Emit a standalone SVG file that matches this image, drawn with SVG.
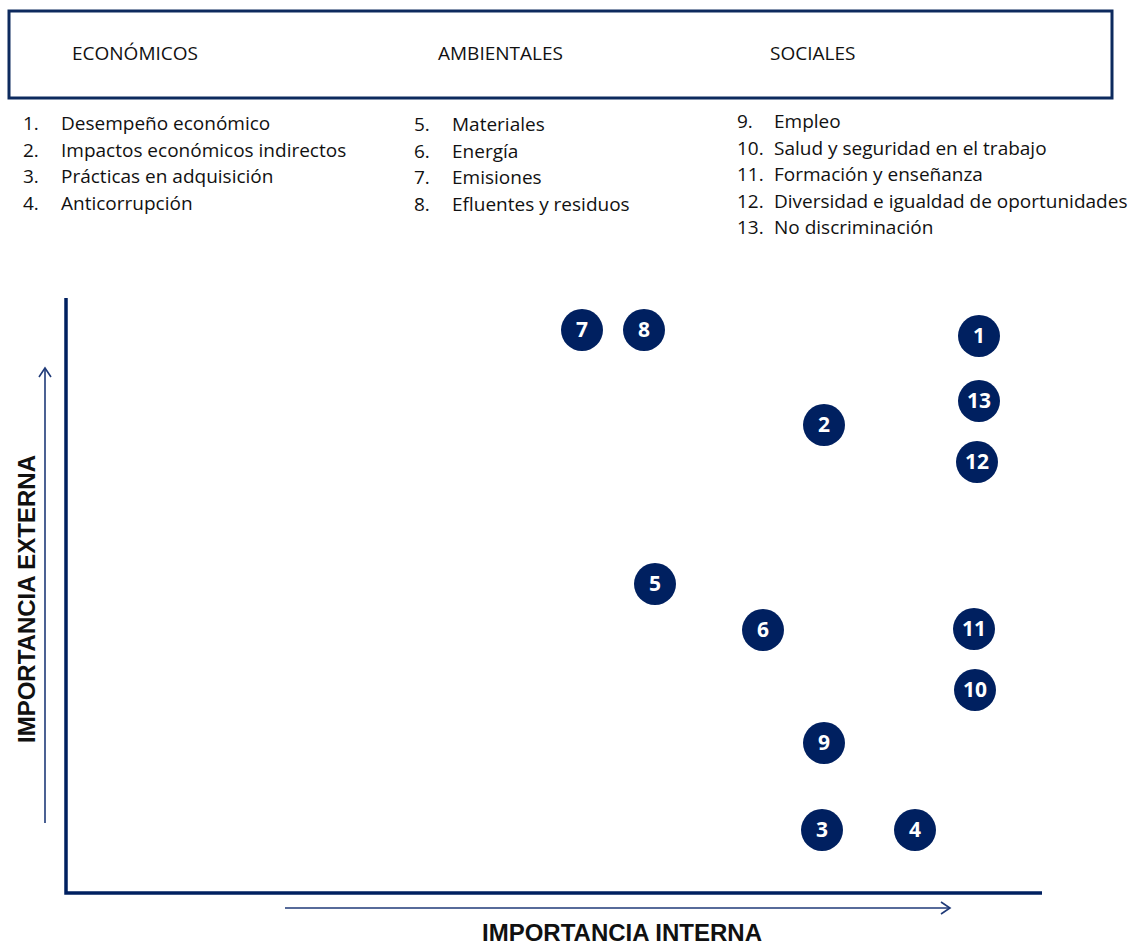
<svg xmlns="http://www.w3.org/2000/svg" width="1140" height="945" viewBox="0 0 1140 945">
<style>
.t{font-family:"Open Sans","Liberation Sans",sans-serif;font-size:19px;fill:#111}
.h{font-family:"Open Sans","Liberation Sans",sans-serif;font-size:19px;fill:#111}
.lab{font-family:"Liberation Sans",Arial,sans-serif;font-weight:bold;font-size:24px;fill:#111}
.c circle{fill:#002060}
.c text{font-family:"Open Sans","Liberation Sans",sans-serif;font-weight:bold;font-size:21px;fill:#fff;text-anchor:middle}
.ax{stroke:#002060;stroke-width:3.5;fill:none}
.ar{stroke:#1f3a78;stroke-width:1.6;fill:none}
</style>
<defs>
<marker id="open" markerWidth="12" markerHeight="14" refX="10" refY="7" orient="auto" markerUnits="userSpaceOnUse">
<path d="M1,1 L10,7 L1,13" fill="none" stroke="#1f3a78" stroke-width="1.6"/>
</marker>
</defs>
<rect width="1140" height="945" fill="#fff"/>
<g id="header">
<rect x="9" y="11" width="1103" height="87" fill="#fff" stroke="#0d2a5e" stroke-width="3"/>
<text class="h" x="72" y="60">ECONÓMICOS</text>
<text class="h" x="438" y="60">AMBIENTALES</text>
<text class="h" x="770" y="60">SOCIALES</text>
</g>
<g id="list-economicos" class="t">
<text x="23" y="130">1.</text><text x="61" y="130">Desempeño económico</text>
<text x="23" y="157">2.</text><text x="61" y="157">Impactos económicos indirectos</text>
<text x="23" y="183">3.</text><text x="61" y="183">Prácticas en adquisición</text>
<text x="23" y="210">4.</text><text x="61" y="210">Anticorrupción</text>
</g>
<g id="list-ambientales" class="t">
<text x="414" y="131">5.</text><text x="452" y="131">Materiales</text>
<text x="414" y="158">6.</text><text x="452" y="158">Energía</text>
<text x="414" y="184">7.</text><text x="452" y="184">Emisiones</text>
<text x="414" y="211">8.</text><text x="452" y="211">Efluentes y residuos</text>
</g>
<g id="list-sociales" class="t">
<text x="737" y="128">9.</text><text x="774" y="128">Empleo</text>
<text x="737" y="155">10.</text><text x="774" y="155">Salud y seguridad en el trabajo</text>
<text x="737" y="181">11.</text><text x="774" y="181">Formación y enseñanza</text>
<text x="737" y="208">12.</text><text x="774" y="208">Diversidad e igualdad de oportunidades</text>
<text x="737" y="234">13.</text><text x="774" y="234">No discriminación</text>
</g>
<g id="connectors">
<path class="ax" d="M66,298 L66,893 L1042,893"/>
<line class="ar" x1="45" y1="823" x2="45" y2="368" marker-end="url(#open)"/>
<line class="ar" x1="285" y1="908" x2="950" y2="908" marker-end="url(#open)"/>
</g>
<text class="lab" transform="translate(35,599) rotate(-90)" text-anchor="middle">IMPORTANCIA EXTERNA</text>
<text class="lab" x="622" y="941" text-anchor="middle">IMPORTANCIA INTERNA</text>
<g id="n7" class="c"><circle cx="582" cy="330" r="21"/><text x="582" y="337">7</text></g>
<g id="n8" class="c"><circle cx="644" cy="330" r="21"/><text x="644" y="337">8</text></g>
<g id="n1" class="c"><circle cx="979" cy="336" r="21"/><text x="979" y="343">1</text></g>
<g id="n13" class="c"><circle cx="979" cy="401" r="21"/><text x="979" y="408">13</text></g>
<g id="n2" class="c"><circle cx="824" cy="425" r="21"/><text x="824" y="432">2</text></g>
<g id="n12" class="c"><circle cx="977" cy="462" r="21"/><text x="977" y="469">12</text></g>
<g id="n5" class="c"><circle cx="655" cy="584" r="21"/><text x="655" y="591">5</text></g>
<g id="n6" class="c"><circle cx="763" cy="630" r="21"/><text x="763" y="637">6</text></g>
<g id="n11" class="c"><circle cx="974" cy="629" r="21"/><text x="974" y="636">11</text></g>
<g id="n10" class="c"><circle cx="975" cy="690" r="21"/><text x="975" y="697">10</text></g>
<g id="n9" class="c"><circle cx="824" cy="743" r="21"/><text x="824" y="750">9</text></g>
<g id="n3" class="c"><circle cx="822" cy="830" r="21"/><text x="822" y="837">3</text></g>
<g id="n4" class="c"><circle cx="915" cy="830" r="21"/><text x="915" y="837">4</text></g>
</svg>
